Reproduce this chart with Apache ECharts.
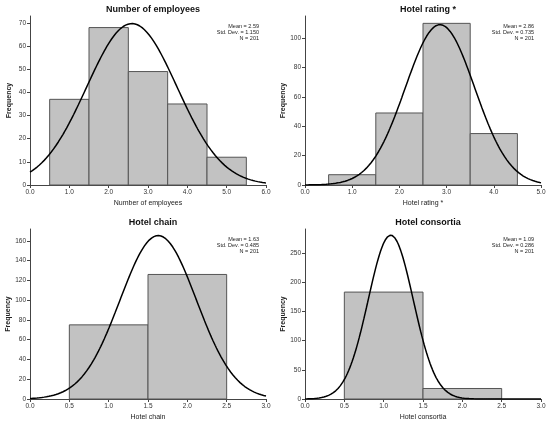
<!DOCTYPE html>
<html>
<head>
<meta charset="utf-8">
<script src="https://cdn.jsdelivr.net/npm/echarts@6/dist/echarts.min.js"></script>
<style>
  html, body { margin: 0; padding: 0; background: #fff; }
  #main { width: 550px; height: 423px; }
</style>
</head>
<body>
<div id="main"></div>
<script>
// 直方图数据 (bin edges + counts), 统计量
var empBins = [0.5, 1.5, 2.5, 3.5, 4.5, 5.5];
var empCounts = [37, 68, 49, 35, 12];
var empStats = { mean: 2.59, sd: 1.150, n: 201 };

var ratingBins = [0.5, 1.5, 2.5, 3.5, 4.5];
var ratingCounts = [7, 49, 110, 35];
var ratingStats = { mean: 2.86, sd: 0.735, n: 201 };

var chainBins = [0.5, 1.5, 2.5];
var chainCounts = [75, 126];
var chainStats = { mean: 1.63, sd: 0.485, n: 201 };

var consBins = [0.5, 1.5, 2.5];
var consCounts = [183, 18];
var consStats = { mean: 1.09, sd: 0.286, n: 201 };

var empYTicks = [0, 10, 20, 30, 40, 50, 60, 70];
var ratingYTicks = [0, 20, 40, 60, 80, 100];
var chainYTicks = [0, 20, 40, 60, 80, 100, 120, 140, 160];
var consYTicks = [0, 50, 100, 150, 200, 250];

var empXTicks = [0, 1, 2, 3, 4, 5, 6];
var ratingXTicks = [0, 1, 2, 3, 4, 5];
var chainXTicks = [0, 0.5, 1, 1.5, 2, 2.5, 3];
var consXTicks = [0, 0.5, 1, 1.5, 2, 2.5, 3];

var panels = [
    { title: 'Number of employees', xName: 'Number of employees', bins: empBins, counts: empCounts, stats: empStats, xTicks: empXTicks, yTicks: empYTicks, xMax: 6, yMax: 73, grid: { left: 30, top: 16, width: 236, height: 169 } },
    { title: 'Hotel rating *', xName: 'Hotel rating *', bins: ratingBins, counts: ratingCounts, stats: ratingStats, xTicks: ratingXTicks, yTicks: ratingYTicks, xMax: 5, yMax: 115, grid: { left: 305, top: 16, width: 236, height: 169 } },
    { title: 'Hotel chain', xName: 'Hotel chain', bins: chainBins, counts: chainCounts, stats: chainStats, xTicks: chainXTicks, yTicks: chainYTicks, xMax: 3, yMax: 172, grid: { left: 30, top: 229, width: 236, height: 170 } },
    { title: 'Hotel consortia', xName: 'Hotel consortia', bins: consBins, counts: consCounts, stats: consStats, xTicks: consXTicks, yTicks: consYTicks, xMax: 3, yMax: 291, grid: { left: 305, top: 229, width: 236, height: 170 } }
];

// 正态曲线 = N * 组距 * pdf
function normalCurve(st, binW, xMax) {
    var pts = [];
    var steps = 200;
    for (var i = 0; i <= steps; i++) {
        var x = xMax * i / steps;
        var z = (x - st.mean) / st.sd;
        pts.push([x, st.n * binW * Math.exp(-0.5 * z * z) / (st.sd * Math.sqrt(2 * Math.PI))]);
    }
    return pts;
}

var font = 'Liberation Sans, Arial, sans-serif';
var option = {
    animation: false,
    backgroundColor: '#fff',
    title: [],
    grid: [],
    xAxis: [],
    yAxis: [],
    series: [],
    graphic: []
};

panels.forEach(function (p, k) {
    var g = p.grid;
    option.grid.push({ left: g.left, top: g.top, width: g.width, height: g.height, containLabel: false });
    option.title.push({
        text: p.title, left: g.left + g.width / 2, top: g.top - 16, textAlign: 'center',
        textStyle: { fontFamily: font, fontSize: 9, fontWeight: 'bold', color: '#111' }
    });
    option.xAxis.push({
        type: 'value', gridIndex: k, min: 0, max: p.xMax,
        name: p.xName, nameLocation: 'middle', nameGap: 15,
        nameTextStyle: { fontFamily: font, fontSize: 7, color: '#222' },
        axisLine: { lineStyle: { color: '#444', width: 1 } },
        axisTick: { length: 3, lineStyle: { color: '#444' }, customValues: p.xTicks },
        axisLabel: { fontFamily: font, fontSize: 6.5, color: '#333', margin: 4, customValues: p.xTicks,
            formatter: function (v) { return v.toFixed(1); } },
        splitLine: { show: false }
    });
    option.yAxis.push({
        type: 'value', gridIndex: k, min: 0, max: p.yMax,
        name: 'Frequency', nameLocation: 'middle', nameGap: 17,
        nameTextStyle: { fontFamily: font, fontSize: 7, fontWeight: 'bold', color: '#222' },
        axisLine: { show: true, lineStyle: { color: '#444', width: 1 } },
        axisTick: { show: true, length: 3, lineStyle: { color: '#444' }, customValues: p.yTicks },
        axisLabel: { fontFamily: font, fontSize: 6.5, color: '#333', margin: 4, customValues: p.yTicks },
        splitLine: { show: false }
    });
    var barData = p.counts.map(function (c, i) { return [p.bins[i], p.bins[i + 1], c]; });
    option.series.push({
        type: 'custom', xAxisIndex: k, yAxisIndex: k, data: barData,
        renderItem: function (params, api) {
            var p0 = api.coord([api.value(0), api.value(2)]);
            var p1 = api.coord([api.value(1), 0]);
            return {
                type: 'rect',
                shape: { x: p0[0], y: p0[1], width: p1[0] - p0[0], height: p1[1] - p0[1] },
                style: { fill: '#c2c2c2', stroke: '#555', lineWidth: 1 }
            };
        }
    });
    option.series.push({
        type: 'line', xAxisIndex: k, yAxisIndex: k, showSymbol: false, smooth: false,
        data: normalCurve(p.stats, p.bins[1] - p.bins[0], p.xMax),
        lineStyle: { color: '#000', width: 1.5 }, z: 5
    });
    var lines = ['Mean = ' + p.stats.mean.toFixed(2), 'Std. Dev. = ' + p.stats.sd.toFixed(3), 'N = ' + p.stats.n];
    lines.forEach(function (t, j) {
        option.graphic.push({
            type: 'text', x: g.left + g.width - 7, y: g.top + 10 + j * 6.3,
            style: { text: t, textAlign: 'right', textVerticalAlign: 'middle', fontFamily: font, fontSize: 5.5, fill: '#222' }
        });
    });
});

var myChart = echarts.init(document.getElementById('main'));
myChart.setOption(option);
</script>
</body>
</html>
